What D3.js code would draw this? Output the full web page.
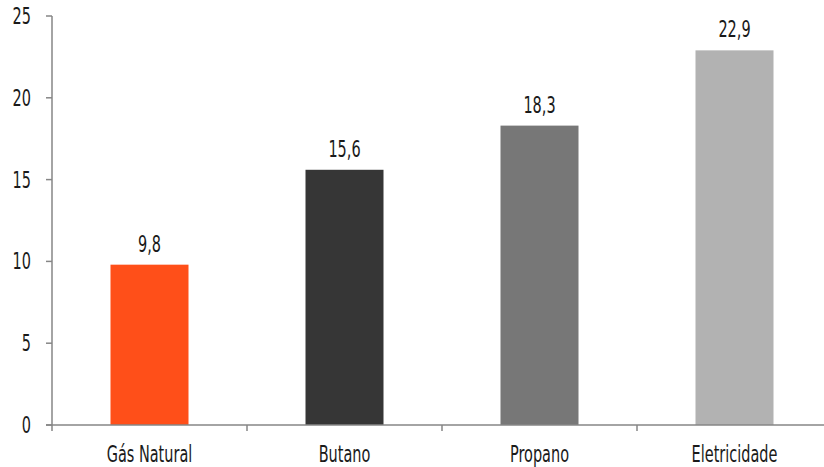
<!DOCTYPE html>
<html>
<head>
<meta charset="utf-8">
<script src="https://cdn.jsdelivr.net/npm/d3@7"></script>
<style>
  body { margin: 0; background: #fff; }
  text { font-family: "DejaVu Sans Condensed", "Liberation Sans Narrow", sans-serif; fill: #1a1a1a; }
</style>
</head>
<body>
<div id="chart"></div>
<script>
const width = 824;
const height = 467;

// data
const categories = ["Gás Natural", "Butano", "Propano", "Eletricidade"];
const values = [9.8, 15.6, 18.3, 22.9];
const labels = ["9,8", "15,6", "18,3", "22,9"];
const barColors = ["#ff4f19", "#363636", "#777777", "#b2b2b2"];
const yTicks = [0, 5, 10, 15, 20, 25];

const svg = d3.select("#chart")
  .append("svg")
  .attr("width", width)
  .attr("height", height);

const x = d3.scaleBand()
  .domain(categories)
  .range([52, 832])
  .paddingInner(0.6)
  .paddingOuter(0.3);

const y = d3.scaleLinear()
  .domain([0, 25])
  .range([425, 16]);

const axisColor = "#868686";
const squeeze = 0.7; // narrow the text, the original uses a condensed face

// helper: text drawn at (px, py), squeezed horizontally
function label(sel, px, py) {
  return sel.attr("transform", (d, i) => `translate(${px(d, i)},${py(d, i)}) scale(${squeeze},1)`)
    .attr("font-size", 23);
}

// y axis
svg.append("line")
  .attr("x1", 52).attr("x2", 52)
  .attr("y1", y(25)).attr("y2", y(0))
  .attr("stroke", axisColor).attr("stroke-width", 1.5);

svg.selectAll(".ytick")
  .data(yTicks)
  .enter()
  .append("line")
  .attr("x1", 46).attr("x2", 52)
  .attr("y1", d => y(d)).attr("y2", d => y(d))
  .attr("stroke", axisColor).attr("stroke-width", 1.5);

svg.selectAll(".ylab")
  .data(yTicks)
  .enter()
  .append("text")
  .attr("text-anchor", "end")
  .call(label, () => 31, d => y(d) + 8)
  .text(d => d);

// bars
svg.selectAll(".bar")
  .data(categories)
  .enter()
  .append("rect")
  .attr("x", d => x(d))
  .attr("y", (d, i) => y(values[i]))
  .attr("width", x.bandwidth())
  .attr("height", (d, i) => y(0) - y(values[i]))
  .attr("fill", (d, i) => barColors[i]);

// value labels
svg.selectAll(".val")
  .data(categories)
  .enter()
  .append("text")
  .attr("text-anchor", "middle")
  .call(label, d => x(d) + x.bandwidth() / 2, (d, i) => y(values[i]) - 13)
  .text((d, i) => labels[i]);

// x axis
svg.append("line")
  .attr("x1", 46).attr("x2", width)
  .attr("y1", y(0)).attr("y2", y(0))
  .attr("stroke", axisColor).attr("stroke-width", 1.5);

const step = x.step();
svg.selectAll(".xtick")
  .data(categories)
  .enter()
  .append("line")
  .attr("x1", d => x(d) - x.paddingOuter() * step)
  .attr("x2", d => x(d) - x.paddingOuter() * step)
  .attr("y1", y(0)).attr("y2", y(0) + 6)
  .attr("stroke", axisColor).attr("stroke-width", 1.5);

svg.selectAll(".xlab")
  .data(categories)
  .enter()
  .append("text")
  .attr("text-anchor", "middle")
  .call(label, d => x(d) + x.bandwidth() / 2, () => 462)
  .text(d => d);
</script>
</body>
</html>
